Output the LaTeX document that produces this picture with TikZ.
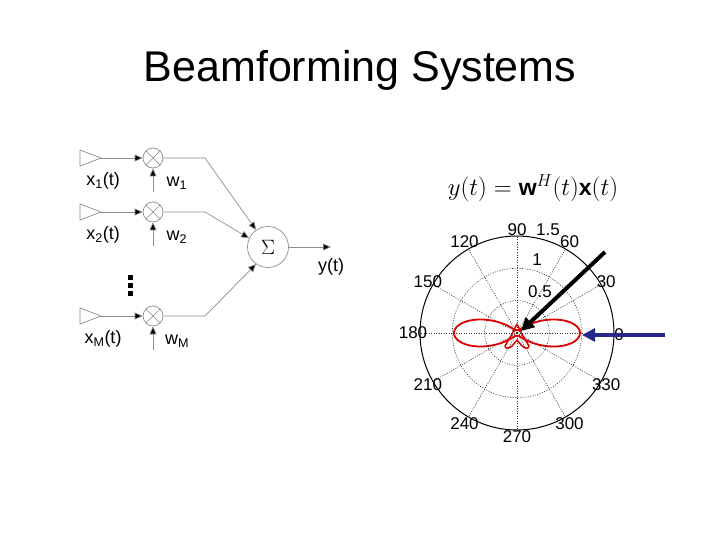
\documentclass[tikz,border=0pt]{standalone}
\usepackage{fontspec}
\setmainfont{Liberation Sans}
\usetikzlibrary{arrows.meta,calc}
\definecolor{navy}{RGB}{40,40,140}
\begin{document}
\begin{tikzpicture}[x=1pt,y=-1pt,
  wire/.style={draw=black!45,line width=0.7pt},
  arr/.style={wire,-{Triangle[length=8pt,width=7pt,fill=black]}},
  lbl/.style={font=\fontsize{18}{18}\selectfont,inner sep=0pt},
  plbl/.style={font=\fontsize{17}{17}\selectfont,inner sep=0pt},
  mult/.style={circle,draw=black!45,line width=0.7pt,minimum size=20pt,inner sep=0pt},
  grid/.style={black!80,line width=0.6pt,dash pattern=on 1pt off 1.5pt},
  ant/.style={draw=black!45,line width=0.7pt}]
\useasboundingbox (0,0) rectangle (720,540);
\node[font=\fontsize{43}{43}\selectfont] (title) at (360,70) {Beamforming Systems};
% antennas and multipliers
\foreach \i/\y/\s in {1/158/1,2/212/2,3/316/M}{
  \draw[ant] (80,\y-8) -- (101,\y) -- (80,\y+8) -- cycle;
  \coordinate (t\i) at (101,\y);
  \node[mult] (m\i) at (153,\y) {};
  \draw[black!45,line width=0.6pt] (m\i.north west) -- (m\i.south east) (m\i.north east) -- (m\i.south west);
  \draw[arr] (t\i) -- (m\i);
  \coordinate (wb\i) at (153,\y+34);
  \draw[arr] (wb\i) -- (m\i);
  \node[lbl] (xl\i) at (103,\y+23) {x\textsubscript{\s}(t)};
  \node[lbl] (wl\i) at (177,\y+25) {w\textsubscript{\s}};
}
\node[mult,minimum size=41pt] (sum) at (268,247) {\fontsize{22}{22}\selectfont$\Sigma$};
\coordinate (k1) at (205,158);
\coordinate (k2) at (205,212);
\coordinate (k3) at (205,316);
\draw[arr] (m1.east) -- (k1) -- (sum.125);
\draw[arr] (m2.east) -- (k2) -- (sum.155);
\draw[arr] (m3.east) -- (k3) -- (sum.235);
\coordinate (yo) at (331,247);
\draw[arr] (sum.east) -- (yo);
\node[lbl] (yl) at (331,267) {y(t)};
\foreach \yy in {277,285,293}{\fill (128,\yy-2.5) rectangle (133,\yy+2.5);}
% equation
\node[font=\fontsize{23}{23}\selectfont] (eq) at (533,188) {$y(t)=\mathbf{w}^H(t)\mathbf{x}(t)$};
% polar plot
\coordinate (c) at (517,333);
\foreach \a in {0,30,...,330}{\draw[grid] (c) -- ({517+97*cos(\a)},{333-97*sin(\a)});}
\draw[grid] (c) circle (32.3) (c) circle (64.7);
\draw[black,line width=1pt] (c) circle (97);
\draw[red!85!black,line width=1.8pt,smooth,domain=0:360,samples=240]
  plot ({517+(3+60*abs(cos(\x))^8)*cos(\x)},{333-(3+60*abs(cos(\x))^8)*sin(\x)});
\draw[red!85!black,line width=1.5pt,line join=round]
  (511,336) -- (505,346) .. controls (506,350) and (509,348) .. (512,346) -- (517,340) -- (522,346)
  .. controls (525,348) and (528,350) .. (529,346) -- (523,336) -- (517,324) -- cycle;
\foreach \t/\a/\r in {90/90/103,120/120/105,150/150/103,180/180/104,210/210/103,240/240/105,270/270/104,300/300/105,330/330/103,30/30/103,60/60/105}{
  \node[plbl] (p\t) at ({517+\r*cos(\a)},{333-\r*sin(\a)}) {\t};}
\node[plbl] (p0) at (619,335) {0};
\node[plbl] (r15) at (548,230) {1.5};
\node[plbl] (r1) at (537,260) {1};
\node[plbl] (r05) at (540,292) {0.5};
\coordinate (ba) at (605,252);
\coordinate (bt) at (521,331);
\draw[line width=4pt,-{Triangle[length=13pt,width=13pt]}] (ba) -- (bt);
\coordinate (ua) at (665,335);
\coordinate (ut) at (582,335);
\draw[navy,line width=4pt,-{Triangle[length=13pt,width=13pt]}] (ua) -- (ut);
\end{tikzpicture}
\end{document}
